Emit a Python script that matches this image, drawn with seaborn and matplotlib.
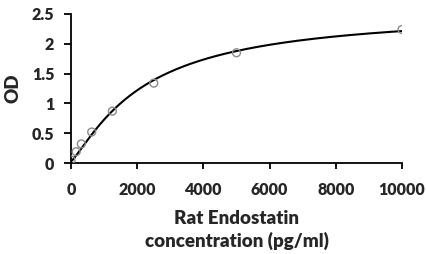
import numpy as np
import pandas as pd
import seaborn as sns
from matplotlib import pyplot as plt

# standard points
conc = [0, 156.25, 312.5, 625, 1250, 2500, 5000, 10000]
od = [0.05, 0.19, 0.32, 0.52, 0.87, 1.34, 1.85, 2.24]

# points
trace_conc = [0, 876, 1230, 2486, 2991, 3293, 5006, 5408, 6465, 7825, 9991]
trace_od = [0.03, 0.64, 0.86, 1.40, 1.53, 1.64, 1.85, 1.90, 2.00, 2.12, 2.24]

x_ticks = [0, 2000, 4000, 6000, 8000, 10000]
y_ticks = [0, 0.5, 1, 1.5, 2, 2.5]
y_tick_labels = ["0", "0.5", "1", "1.5", "2", "2.5"]


def fit_4pl(x, y):
    # 4PL: grid over slope/EC50, linear least squares for the two asymptotes
    x = np.asarray(x, float)
    y = np.asarray(y, float)
    best = None
    for b in np.linspace(0.6, 2.5, 96):
        for c in np.linspace(500, 20000, 391):
            g = 1.0 / (1.0 + (x / c) ** b)
            A = np.column_stack([g, 1 - g])
            coef, *_ = np.linalg.lstsq(A, y, rcond=None)
            err = np.sum((A @ coef - y) ** 2)
            if best is None or err < best[0]:
                best = (err, coef[0], coef[1], b, c)
    _, a, d, b, c = best
    return lambda t: d + (a - d) / (1.0 + (t / c) ** b)


curve = fit_4pl(trace_conc, trace_od)
xs = np.linspace(0, 10000, 400)
fit_df = pd.DataFrame({"conc": xs, "od": curve(xs)})
pts = pd.DataFrame({"conc": conc, "od": od})

sns.set_style("ticks")
plt.rcParams["font.family"] = ["Lato", "DejaVu Sans"]

fig = plt.figure(figsize=(4.27, 2.54), dpi=100)
ax = fig.add_axes([71 / 427, 1 - 163 / 254, 331 / 427, 149 / 254])

sns.lineplot(data=fit_df, x="conc", y="od", ax=ax, color="black", linewidth=1.5)
sns.scatterplot(data=pts, x="conc", y="od", ax=ax, s=32, facecolor="none",
                edgecolor="#8a8a8a", linewidth=1.0, zorder=3)

ax.set_xlim(0, 10000)
ax.set_ylim(0, 2.5)
ax.set_xticks(x_ticks)
ax.set_xticklabels([str(t) for t in x_ticks])
ax.set_yticks(y_ticks)
ax.set_yticklabels(y_tick_labels)
ax.tick_params(axis="both", labelsize=11.5, width=1.3, color="black")
ax.tick_params(axis="x", length=4, pad=10)
ax.tick_params(axis="y", length=5, pad=7)
for lbl in ax.get_xticklabels() + ax.get_yticklabels():
    lbl.set_fontweight("heavy")
for side in ["left", "bottom"]:
    ax.spines[side].set_linewidth(1.3)
    ax.spines[side].set_color("black")
sns.despine(ax=ax)

ax.set_xlabel("Rat Endostatin\nconcentration (pg/ml)", fontsize=13.5, fontweight="heavy",
              labelpad=8, linespacing=1.35)
ax.set_ylabel("OD", fontsize=13.5, fontweight="heavy", labelpad=7)

fig.savefig("out.png", dpi=100)
